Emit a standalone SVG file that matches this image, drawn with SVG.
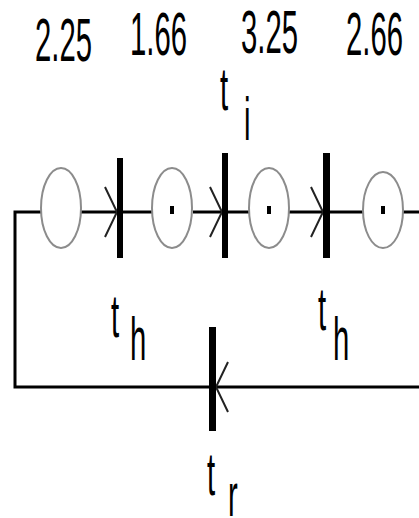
<svg xmlns="http://www.w3.org/2000/svg" width="419" height="518" viewBox="0 0 419 518">
<style>
.lbl{font-family:"Liberation Sans",Arial,sans-serif;font-size:61px;fill:#000}
.place{fill:#fff;stroke:#8c8c8c;stroke-width:2}
.tok{fill:#000}
.tr{fill:#000}
.arc{fill:none;stroke:#000;stroke-width:3}
</style>
<defs>
<marker id="chev" markerUnits="userSpaceOnUse" viewBox="-14 -28 16 56" refX="0" refY="0" markerWidth="16" markerHeight="56" orient="auto" overflow="visible">
<path d="M-12,-25 L0,0 L-12,25" fill="none" stroke="#222" stroke-width="2"/>
</marker>
</defs>
<g id="connectors">
<path class="arc" d="M41,212 H15 V387 H209"/>
<path class="arc" d="M81,212 H117" marker-end="url(#chev)"/>
<path class="arc" d="M123,212 H152"/>
<path class="arc" d="M193,212 H222" marker-end="url(#chev)"/>
<path class="arc" d="M228,212 H249"/>
<path class="arc" d="M289,212 H323" marker-end="url(#chev)"/>
<path class="arc" d="M330,212 H363"/>
<path class="arc" d="M403,212 H419"/>
<path class="arc" d="M419,387 H216" marker-end="url(#chev)"/>
</g>
<g id="p1"><ellipse class="place" cx="61" cy="208" rx="20" ry="40"/><text class="lbl" transform="translate(35,61) scale(0.48,1)">2.25</text></g>
<g id="p2"><ellipse class="place" cx="172" cy="208" rx="20" ry="40"/><rect class="tok" x="170" y="206" width="4" height="8"/><text class="lbl" transform="translate(130,55) scale(0.48,1)">1.66</text></g>
<g id="p3"><ellipse class="place" cx="269" cy="208" rx="20" ry="40"/><rect class="tok" x="267" y="206" width="4" height="8"/><text class="lbl" transform="translate(241,53) scale(0.48,1)">3.25</text></g>
<g id="p4"><ellipse class="place" cx="383" cy="210" rx="20" ry="38"/><rect class="tok" x="381" y="206" width="4" height="8"/><text class="lbl" transform="translate(346,55) scale(0.48,1)">2.66</text></g>
<g id="t1"><rect class="tr" x="117" y="158" width="6" height="100"/><text class="lbl" transform="translate(111,337) scale(0.48,1)">t</text><text class="lbl" transform="translate(130,360) scale(0.48,1)">h</text></g>
<g id="t2"><rect class="tr" x="222" y="153" width="6" height="105"/><text class="lbl" transform="translate(220,110) scale(0.48,1)">t</text><text class="lbl" transform="translate(244,140) scale(0.48,1)">i</text></g>
<g id="t3"><rect class="tr" x="323" y="153" width="7" height="105"/><text class="lbl" transform="translate(318,330) scale(0.48,1)">t</text><text class="lbl" transform="translate(333,360) scale(0.48,1)">h</text></g>
<g id="t4"><rect class="tr" x="209" y="327" width="7" height="104"/><text class="lbl" transform="translate(207,495) scale(0.48,1)">t</text><text class="lbl" transform="translate(228,516) scale(0.48,1)">r</text></g>
</svg>
